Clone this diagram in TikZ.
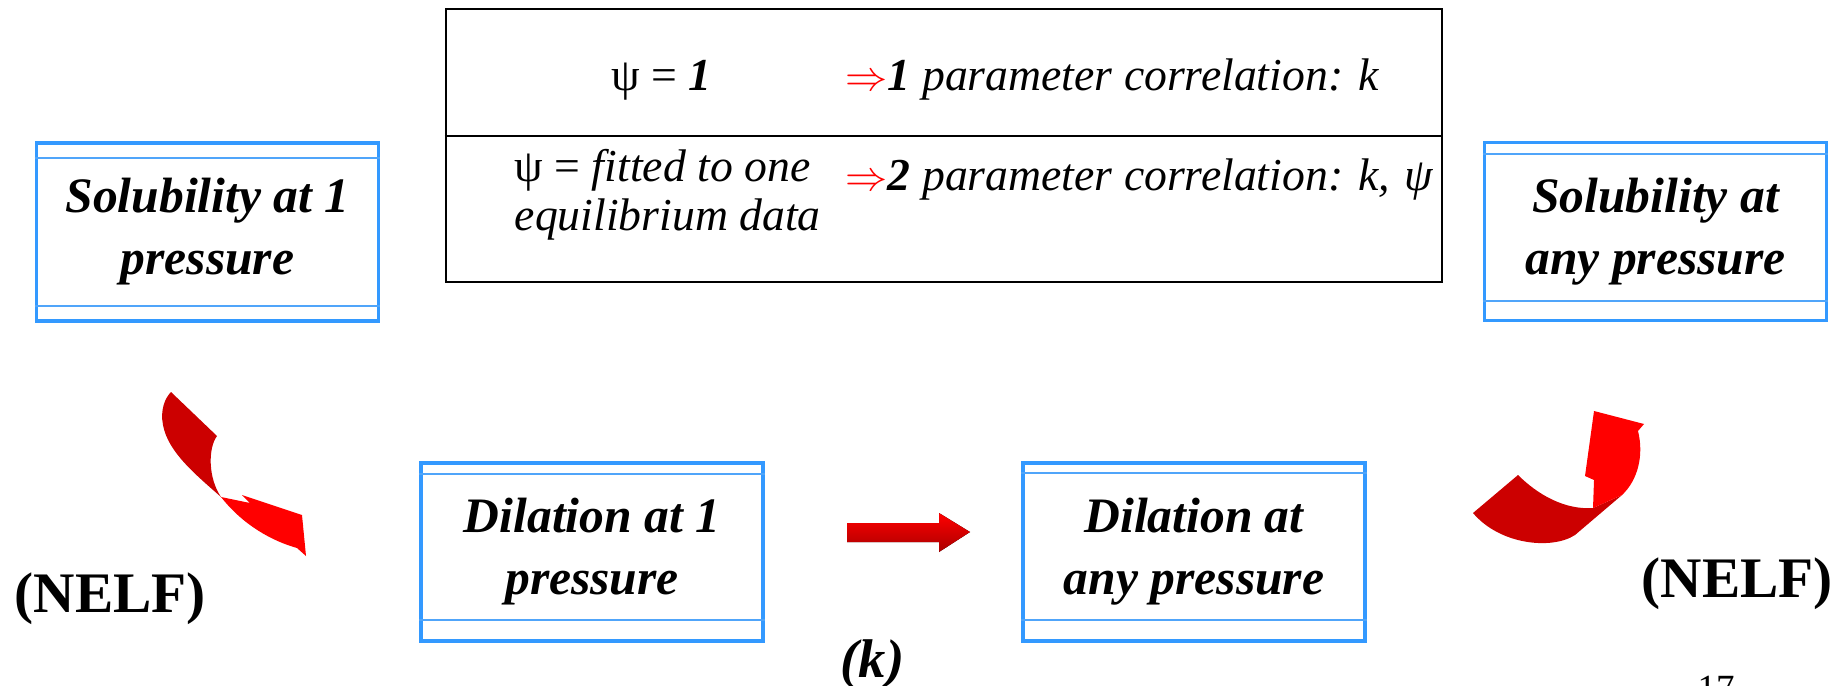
\documentclass[tikz,border=0pt]{standalone}
\usepackage{fontspec}
\setmainfont{Liberation Serif}
\usetikzlibrary{calc}
\definecolor{boxblue}{RGB}{51,153,255}
\definecolor{innerblue}{RGB}{80,165,250}
\definecolor{darkred}{RGB}{204,0,0}
\definecolor{brightred}{RGB}{255,0,0}
\definecolor{shadered}{RGB}{170,0,0}
\begin{document}
\begin{tikzpicture}[x=0.01cm,y=-0.01cm,
  bluebox/.style={draw=boxblue, line width=1pt, minimum width=3.42cm, minimum height=1.78cm,
    inner sep=0pt, align=center, font=\fontsize{14.1}{17.6}\selectfont\bfseries\itshape},
  innerline/.style={draw=innerblue, line width=0.5pt},
  tabletext/.style={anchor=base west, inner sep=0pt, font=\fontsize{13}{15.6}\selectfont\itshape},
  nelf/.style={anchor=base west, inner sep=0pt, font=\fontsize{16.3}{19}\selectfont\bfseries},
  tablebox/.style={draw=black, line width=0.6pt, minimum width=9.96cm, minimum height=2.73cm, inner sep=0pt}
]
\useasboundingbox (0,0) rectangle (1840,685);
\clip (0,0) rectangle (1840,685);

% top table
\node[tablebox] (tbl) at (944,145.5) {};
\draw[line width=0.6pt] ($(tbl.north west)+(0,128)$) coordinate (midl) -- ($(tbl.north east)+(0,128)$) coordinate (midr);
\node[tabletext] (r1a) at (611,91) {\upshape ψ = \textbf{\itshape 1}};
\node[tabletext] (r1b) at (845,91) {\textcolor{red}{$\Rightarrow$}\textbf{1} parameter correlation: k};
\node[tabletext] (r2a) at (514,182) {\upshape ψ = \itshape fitted to one};
\node[tabletext] (r2b) at (514,230) {equilibrium data};
\node[tabletext] (r2c) at (845,190) {\textcolor{red}{$\Rightarrow$}\textbf{2} parameter correlation: k,\hspace{0.3em}ψ};

% blue boxes
\node[bluebox] (sol1) at (207.5,232) {Solubility at 1\\pressure};
\node[bluebox] (solany) at (1655.5,231.5) {Solubility at\\any pressure};
\node[bluebox] (dil1) at (592,552) {Dilation at 1\\pressure};
\node[bluebox] (dilany) at (1194,552) {Dilation at\\any pressure};

\draw[innerline] ($(sol1.north west)+(0,17)$) -- ($(sol1.north east)+(0,17)$);
\draw[innerline] ($(sol1.south west)+(0,-17)$) -- ($(sol1.south east)+(0,-17)$);
\draw[innerline] ($(solany.north west)+(0,13)$) -- ($(solany.north east)+(0,13)$);
\draw[innerline] ($(solany.south west)+(0,-21)$) -- ($(solany.south east)+(0,-21)$);
\draw[innerline] ($(dil1.north west)+(0,13)$) -- ($(dil1.north east)+(0,13)$);
\draw[innerline] ($(dil1.south west)+(0,-23)$) -- ($(dil1.south east)+(0,-23)$);
\draw[innerline] ($(dilany.north west)+(0,12)$) -- ($(dilany.north east)+(0,12)$);
\draw[innerline] ($(dilany.south west)+(0,-23)$) -- ($(dilany.south east)+(0,-23)$);

% block arrow between dilation boxes
\fill[top color=brightred, middle color=brightred, bottom color=shadered]
  (847,523) -- (939,523) -- (939,513) -- (970,532) -- (939,552) -- (939,542) -- (847,542) -- cycle;

% left curved arrow
\fill[darkred] (171,392) -- (217,436) .. controls (208,448) and (208,478) .. (221,497)
  .. controls (195,474) and (168,452) .. (163,425) .. controls (160,410) and (165,398) .. (171,392) -- cycle;
\fill[brightred] (221,497) -- (250,503) -- (242,495) -- (302,515) -- (306,556) -- (297,548)
  .. controls (272,541) and (243,525) .. (221,497) -- cycle;

% right curved arrow
\fill[darkred] (1473,513) -- (1518,475) .. controls (1538,495) and (1565,510) .. (1593,508)
  -- (1622,495) -- (1575,535) .. controls (1552,550) and (1500,545) .. (1473,513) -- cycle;
\fill[brightred] (1593,508) -- (1594,480) -- (1585,476) -- (1594,411) -- (1644,424) -- (1638,431)
  .. controls (1644,455) and (1638,480) .. (1622,495) -- cycle;

% labels
\node[nelf] (nelfl) at (14,612) {(NELF)};
\node[nelf] (nelfr) at (1641,597) {(NELF)};
\node[anchor=base west, inner sep=0pt, font=\fontsize{15.5}{18}\selectfont\bfseries\itshape] (k) at (840,677) {(k)};
\node[anchor=base west, inner sep=0pt, font=\fontsize{10.5}{12}\selectfont] (pg) at (1697,700) {17};
\end{tikzpicture}
\end{document}
